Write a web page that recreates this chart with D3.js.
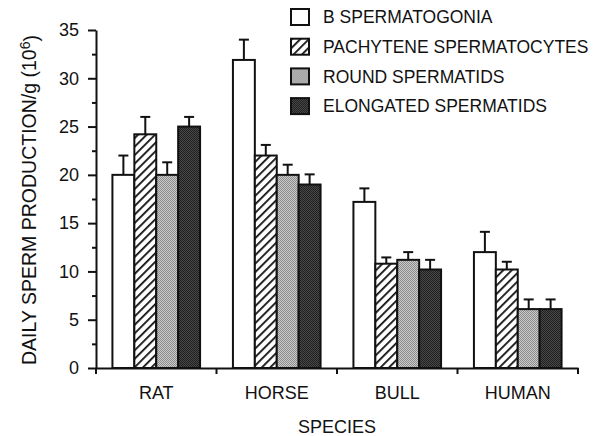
<!DOCTYPE html>
<html>
<head>
<meta charset="utf-8">
<script src="https://cdn.jsdelivr.net/npm/d3@7"></script>
<style>
  body { margin: 0; background: #fff; }
  text { font-family: "Liberation Sans", Arial, Helvetica, sans-serif; fill: #111; }
</style>
</head>
<body>
<div id="chart"></div>
<script>
// data
var species = ["RAT", "HORSE", "BULL", "HUMAN"];
var seriesNames = ["B SPERMATOGONIA", "PACHYTENE SPERMATOCYTES", "ROUND SPERMATIDS", "ELONGATED SPERMATIDS"];
var bSpermatogonia    = [20.0, 31.9, 17.2, 12.0];
var bSpermatogoniaErr = [2.0, 2.1, 1.4, 2.1];
var pachytene         = [24.2, 22.0, 10.8, 10.2];
var pachyteneErr      = [1.8, 1.1, 0.65, 0.8];
var roundSpd          = [20.0, 20.0, 11.2, 6.1];
var roundSpdErr       = [1.3, 1.05, 0.8, 1.0];
var elongatedSpd      = [25.0, 19.0, 10.2, 6.1];
var elongatedSpdErr   = [1.0, 1.05, 1.0, 1.0];
var yTicks = [0, 5, 10, 15, 20, 25, 30, 35];

var values = [bSpermatogonia, pachytene, roundSpd, elongatedSpd];
var errors = [bSpermatogoniaErr, pachyteneErr, roundSpdErr, elongatedSpdErr];

var data = [];
species.forEach(function(s, i) {
  seriesNames.forEach(function(n, j) {
    data.push({ species: s, series: n, idx: j, value: values[j][i], err: errors[j][i] });
  });
});

var width = 600, height = 436;
var margin = { top: 30, right: 22, bottom: 68, left: 96 };

var svg = d3.select("#chart")
  .append("svg")
  .attr("width", width)
  .attr("height", height);

var defs = svg.append("defs");

// diagonal hatch
var hatch = defs.append("pattern")
  .attr("id", "hatch")
  .attr("patternUnits", "userSpaceOnUse")
  .attr("width", 6)
  .attr("height", 6)
  .attr("patternTransform", "rotate(45)");
hatch.append("rect").attr("width", 6).attr("height", 6).attr("fill", "#fff");
hatch.append("rect").attr("x", 0).attr("width", 1.8).attr("height", 6).attr("fill", "#111");

// stippled greys
function stipple(id, a, b) {
  var p = defs.append("pattern")
    .attr("id", id)
    .attr("patternUnits", "userSpaceOnUse")
    .attr("width", 2)
    .attr("height", 2);
  p.append("rect").attr("width", 2).attr("height", 2).attr("fill", a);
  p.append("rect").attr("width", 1).attr("height", 1).attr("fill", b);
  p.append("rect").attr("x", 1).attr("y", 1).attr("width", 1).attr("height", 1).attr("fill", b);
}
stipple("grey", "#cacaca", "#8c8c8c");
stipple("dark", "#4a4a4a", "#1e1e1e");

var fills = ["#fff", "url(#hatch)", "url(#grey)", "url(#dark)"];

var x0 = d3.scaleBand()
  .domain(species)
  .range([margin.left, width - margin.right]);

var x1 = d3.scaleBand()
  .domain(seriesNames)
  .range([0, x0.bandwidth()])
  .paddingInner(0)
  .paddingOuter(0.75);

var y = d3.scaleLinear()
  .domain([0, 35])
  .range([height - margin.bottom, margin.top]);

// bars
var g = svg.append("g");

g.selectAll(".bar")
  .data(data)
  .enter()
  .append("rect")
  .attr("class", "bar")
  .attr("x", function(d) { return x0(d.species) + x1(d.series); })
  .attr("y", function(d) { return y(d.value); })
  .attr("width", x1.bandwidth())
  .attr("height", function(d) { return y(0) - y(d.value); })
  .attr("fill", function(d) { return fills[d.idx]; })
  .attr("stroke", "#111")
  .attr("stroke-width", 2);

// error bars (upper only)
var eb = g.selectAll(".err")
  .data(data)
  .enter()
  .append("g")
  .attr("class", "err")
  .attr("stroke", "#111")
  .attr("stroke-width", 2);

eb.append("line")
  .attr("x1", function(d) { return x0(d.species) + x1(d.series) + x1.bandwidth() / 2; })
  .attr("x2", function(d) { return x0(d.species) + x1(d.series) + x1.bandwidth() / 2; })
  .attr("y1", function(d) { return y(d.value); })
  .attr("y2", function(d) { return y(d.value + d.err); });

eb.append("line")
  .attr("x1", function(d) { return x0(d.species) + x1(d.series) + x1.bandwidth() / 2 - 5; })
  .attr("x2", function(d) { return x0(d.species) + x1(d.series) + x1.bandwidth() / 2 + 5; })
  .attr("y1", function(d) { return y(d.value + d.err); })
  .attr("y2", function(d) { return y(d.value + d.err); });

// y axis
var yAxis = svg.append("g")
  .attr("transform", "translate(" + margin.left + ",0)")
  .call(d3.axisLeft(y).tickValues(yTicks).tickSize(8).tickPadding(9).tickSizeOuter(0));

svg.append("g")
  .attr("transform", "translate(" + margin.left + ",0)")
  .call(d3.axisLeft(y).tickValues(yTicks.slice(1).map(function(t) { return t - 2.5; })).tickSize(4).tickFormat("").tickSizeOuter(0))
  .select(".domain").remove();

yAxis.selectAll("text").style("font-size", "18px").attr("fill", "#111");
svg.selectAll(".tick line").attr("stroke", "#111").attr("stroke-width", 2);
yAxis.select(".domain").attr("stroke", "#111").attr("stroke-width", 2);

// x axis
var xAxis = svg.append("g")
  .attr("transform", "translate(0," + y(0) + ")")
  .call(d3.axisBottom(x0).tickSize(0).tickPadding(18).tickSizeOuter(0));
xAxis.select(".domain").attr("stroke", "#111").attr("stroke-width", 2);
xAxis.selectAll("text").style("font-size", "18px").attr("fill", "#111");

var bounds = species.map(function(s) { return x0(s); }).concat([x0.range()[1]]);
xAxis.selectAll(".bound")
  .data(bounds)
  .enter()
  .append("line")
  .attr("class", "bound")
  .attr("x1", function(d) { return d; })
  .attr("x2", function(d) { return d; })
  .attr("y1", 0)
  .attr("y2", 6)
  .attr("stroke", "#111")
  .attr("stroke-width", 2);

// axis titles
svg.append("text")
  .attr("x", (x0.range()[0] + x0.range()[1]) / 2)
  .attr("y", 433)
  .attr("text-anchor", "middle")
  .style("font-size", "18px")
  .text("SPECIES");

var yTitle = svg.append("text")
  .attr("transform", "translate(36," + ((y(0) + y(35)) / 2 + 1) + ") rotate(-90)")
  .attr("text-anchor", "middle")
  .style("font-size", "19.5px");
yTitle.append("tspan").text("DAILY SPERM PRODUCTION/g (10");
yTitle.append("tspan").attr("dy", "-0.45em").style("font-size", "14px").text("6");
yTitle.append("tspan").attr("dy", "0.45em").text(")");

// legend
var legend = svg.append("g")
  .attr("transform", "translate(291,9)");

var lg = legend.selectAll("g")
  .data(seriesNames)
  .enter()
  .append("g")
  .attr("transform", function(d, i) { return "translate(0," + i * 29.7 + ")"; });

lg.append("rect")
  .attr("width", 18)
  .attr("height", 16)
  .attr("fill", function(d, i) { return fills[i]; })
  .attr("stroke", "#111")
  .attr("stroke-width", 2);

lg.append("text")
  .attr("x", 32)
  .attr("y", 8)
  .attr("dy", "0.36em")
  .style("font-size", "17.5px")
  .text(function(d) { return d; });
</script>
</body>
</html>
